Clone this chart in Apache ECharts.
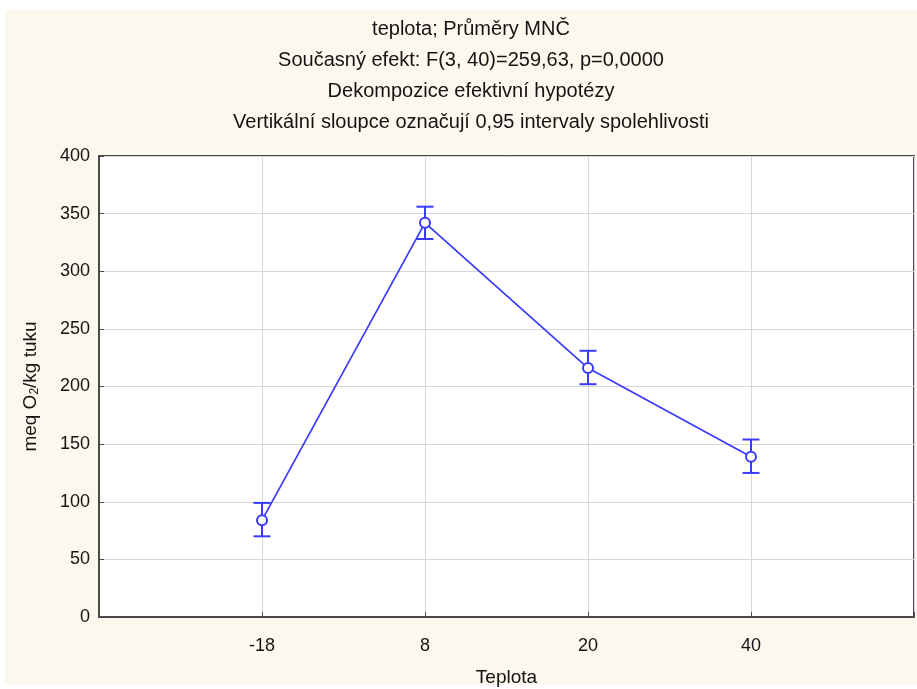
<!DOCTYPE html>
<html>
<head>
<meta charset="utf-8">
<title>teplota; Průměry MNČ</title>
<script src="https://cdn.jsdelivr.net/npm/echarts@6/dist/echarts.min.js"></script>
<style>
  html, body { margin: 0; padding: 0; background: #ffffff; }
  #chart { width: 917px; height: 689px; }
</style>
</head>
<body>
<div id="chart"></div>
<script>
// Temperature levels (empty slots pad both ends of the axis)
const categories = ['', '-18', '8', '20', '40', ''];
// Least-squares means of peroxide value, meq O2/kg fat
const meanValues = [84, 342, 216, 139];
// 0.95 confidence interval bounds
const ciLower = [70, 328, 202, 125];
const ciUpper = [99, 356, 231, 154];
const titleLines = [
  'teplota; Průměry MNČ',
  'Současný efekt: F(3, 40)=259,63, p=0,0000',
  'Dekompozice efektivní hypotézy',
  'Vertikální sloupce označují 0,95 intervaly spolehlivosti'
];

const BLUE = '#3a3aff';
const FONT = 'Liberation Sans, Arial, sans-serif';
const TEXT = '#141414';

const meanData = meanValues.map((v, i) => [i + 1, v]);
const ciData = meanValues.map((v, i) => [i + 1, ciLower[i], ciUpper[i]]);

const chart = echarts.init(document.getElementById('chart'), null, { renderer: 'canvas' });

chart.setOption({
  backgroundColor: '#ffffff',
  animation: false,
  graphic: [
    { type: 'rect', z: -10, shape: { x: 5, y: 10, width: 912, height: 675 },
      style: { fill: '#fdf8ee' } }
  ].concat(titleLines.map((t, i) => ({
    type: 'text', x: 471, y: 29 + i * 31, z: 10,
    style: { text: t, font: '20px ' + FONT, fill: TEXT, align: 'center', verticalAlign: 'middle' }
  }))),
  grid: {
    left: 99, right: 3, top: 156, bottom: 72,
    outerBoundsMode: 'none',
    containLabel: false,
    show: true, backgroundColor: '#ffffff',
    borderColor: '#4a4a4a', borderWidth: 2
  },
  xAxis: {
    type: 'category',
    data: categories,
    boundaryGap: false,
    name: 'Teplota',
    nameLocation: 'middle',
    nameGap: 51,
    nameTextStyle: { fontFamily: FONT, fontSize: 19, color: TEXT },
    axisLine: { lineStyle: { color: '#4a4a4a', width: 2 } },
    axisTick: { inside: true, length: 5, lineStyle: { color: '#4a4a4a' } },
    axisLabel: { fontFamily: FONT, fontSize: 18, color: TEXT, margin: 20 },
    splitLine: { show: true, lineStyle: { color: '#d6d6d6', width: 1 } }
  },
  yAxis: {
    type: 'value',
    min: 0, max: 400, interval: 50,
    name: '{a|meq O}{s|2}{a|/kg tuku}',
    nameLocation: 'middle',
    nameGap: 58,
    nameTextStyle: {
      rich: {
        a: { fontFamily: FONT, fontSize: 19, color: TEXT },
        s: { fontFamily: FONT, fontSize: 12, color: TEXT, verticalAlign: 'bottom', padding: [9, 0, 0, 0] }
      }
    },
    axisLine: { show: true, lineStyle: { color: '#4a4a4a', width: 2 } },
    axisTick: { show: true, inside: true, length: 5, lineStyle: { color: '#4a4a4a' } },
    axisLabel: { fontFamily: FONT, fontSize: 18, color: TEXT, margin: 9 },
    splitLine: { show: true, lineStyle: { color: '#d6d6d6', width: 1 } }
  },
  series: [
    {
      type: 'line',
      data: meanData,
      symbol: 'emptyCircle',
      symbolSize: 10,
      z: 3,
      lineStyle: { color: BLUE, width: 1.7 },
      itemStyle: { color: BLUE, borderColor: BLUE, borderWidth: 2 }
    },
    {
      type: 'custom',
      data: ciData,
      z: 2,
      renderItem: function (params, api) {
        const x = api.value(0);
        const lo = api.coord([x, api.value(1)]);
        const hi = api.coord([x, api.value(2)]);
        const half = 8.5;
        const style = { stroke: BLUE, lineWidth: 2 };
        return {
          type: 'group',
          children: [
            { type: 'line', shape: { x1: lo[0], y1: lo[1], x2: hi[0], y2: hi[1] }, style: style },
            { type: 'line', shape: { x1: lo[0] - half, y1: lo[1], x2: lo[0] + half, y2: lo[1] }, style: style },
            { type: 'line', shape: { x1: hi[0] - half, y1: hi[1], x2: hi[0] + half, y2: hi[1] }, style: style }
          ]
        };
      }
    }
  ]
});
</script>
</body>
</html>
